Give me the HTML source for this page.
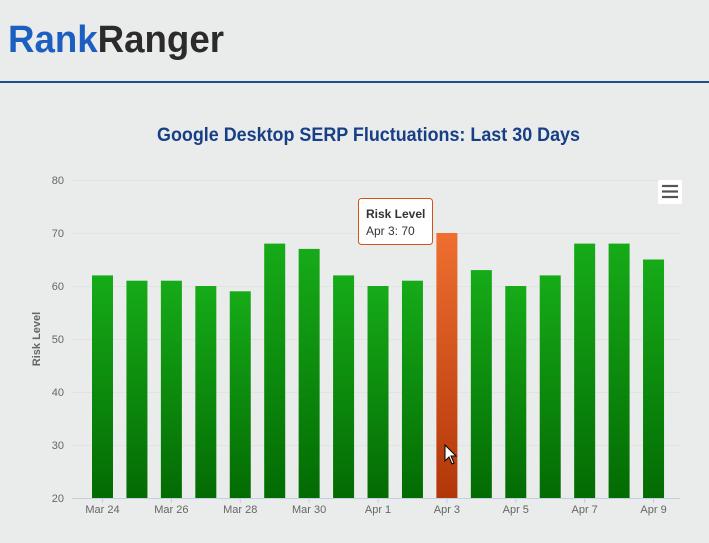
<!DOCTYPE html>
<html><head><style>
html,body{margin:0;padding:0;background:#eaebeb;}
svg{display:block;font-family:"Liberation Sans",sans-serif;}
</style></head><body>
<svg width="709" height="543" viewBox="0 0 709 543" xmlns="http://www.w3.org/2000/svg">
<defs>
<linearGradient id="g" x1="0" y1="0" x2="0" y2="1"><stop offset="0" stop-color="#16ab18"/><stop offset="1" stop-color="#036b03"/></linearGradient>
<linearGradient id="o" x1="0" y1="0" x2="0" y2="1"><stop offset="0" stop-color="#ee6f30"/><stop offset="1" stop-color="#b23608"/></linearGradient>
</defs>
<rect width="709" height="543" fill="#eaebeb"/>
<text x="8" y="52" font-size="38" font-weight="bold" textLength="216" lengthAdjust="spacingAndGlyphs"><tspan fill="#1d5fc0">Rank</tspan><tspan fill="#2b2b2b">Ranger</tspan></text>
<rect x="0" y="81" width="709" height="2" fill="#1f4e8c"/>
<text x="157" y="141" font-size="19" font-weight="bold" fill="#173f85" textLength="423" lengthAdjust="spacingAndGlyphs">Google Desktop SERP Fluctuations: Last 30 Days</text>
<g stroke="#e2e3e3" stroke-width="1">
<line x1="72" y1="180.5" x2="680" y2="180.5"/><line x1="72" y1="233.5" x2="680" y2="233.5"/><line x1="72" y1="286.5" x2="680" y2="286.5"/><line x1="72" y1="339.5" x2="680" y2="339.5"/><line x1="72" y1="392.5" x2="680" y2="392.5"/><line x1="72" y1="445.5" x2="680" y2="445.5"/>
</g>
<g font-size="11" fill="#666" text-anchor="end">
<text x="64" y="184">80</text><text x="64" y="237">70</text><text x="64" y="290">60</text><text x="64" y="343">50</text><text x="64" y="396">40</text><text x="64" y="449">30</text><text x="64" y="502">20</text>
</g>
<text transform="translate(40,339) rotate(-90)" font-size="11" font-weight="bold" fill="#666" text-anchor="middle">Risk Level</text>
<g id="bars"></g>
<line x1="72" y1="498.5" x2="680" y2="498.5" stroke="#c0d0e0"/>
<g id="ticks"></g>
<rect x="658" y="180" width="24" height="24" rx="2" fill="#fff"/>
<g stroke="#555" stroke-width="2.2"><line x1="662" y1="186" x2="678" y2="186"/><line x1="662" y1="191.5" x2="678" y2="191.5"/><line x1="662" y1="197" x2="678" y2="197"/></g>
<rect x="358.5" y="198.5" width="74" height="46" rx="3" fill="#fff" stroke="#d4501e"/>
<text x="366" y="218" font-size="12" font-weight="bold" fill="#333">Risk Level</text>
<text x="366" y="235" font-size="12" fill="#333">Apr 3: 70</text>
<path d="M445 445 L445 461 L449 457 L452 464 L454 463 L451 456 L456 456 Z" fill="#fff" stroke="#000" stroke-width="1"/>
</svg>
<script>
var v=[62,61,61,60,59,68,67,62,60,61,70,63,60,62,68,68,65];
var lab=["Mar 24","Mar 26","Mar 28","Mar 30","Apr 1","Apr 3","Apr 5","Apr 7","Apr 9"];
var b=document.getElementById('bars'),t=document.getElementById('ticks'),ns="http://www.w3.org/2000/svg";
v.forEach(function(x,i){var c=102.5+i*34.44,y=498-(x-20)*5.3;var r=document.createElementNS(ns,'rect');
r.setAttribute('x',c-10.5);r.setAttribute('y',y);r.setAttribute('width',21);r.setAttribute('height',498-y);r.setAttribute('fill',i==10?'url(#o)':'url(#g)');b.appendChild(r);});
lab.forEach(function(l,k){var c=102.5+k*2*34.44;var ln=document.createElementNS(ns,'line');ln.setAttribute('x1',c);ln.setAttribute('x2',c);ln.setAttribute('y1',498);ln.setAttribute('y2',503);ln.setAttribute('stroke','#c0d0e0');t.appendChild(ln);
var tx=document.createElementNS(ns,'text');tx.setAttribute('x',c);tx.setAttribute('y',513);tx.setAttribute('font-size','11');tx.setAttribute('fill','#666');tx.setAttribute('text-anchor','middle');tx.textContent=l;t.appendChild(tx);});
</script>
</body></html>
